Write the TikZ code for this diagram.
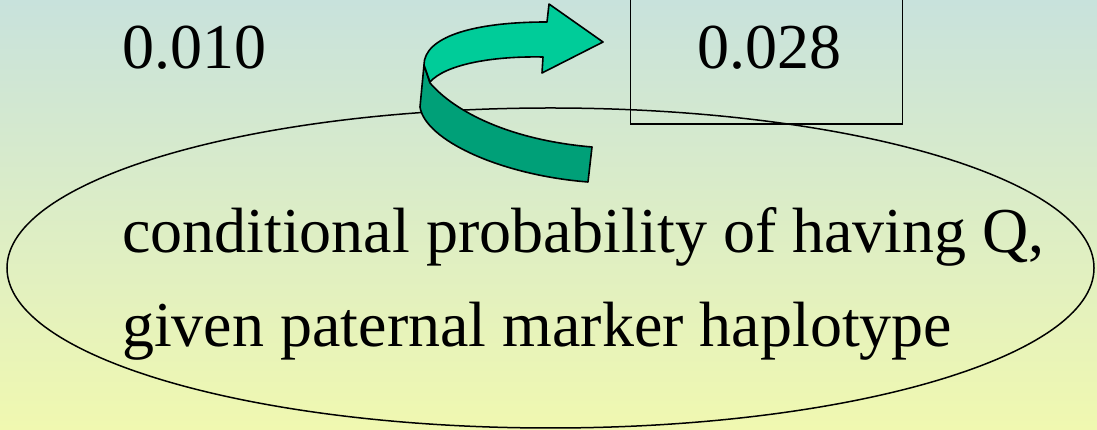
\documentclass[tikz,border=0pt]{standalone}
\usepackage{fontspec}
\setmainfont{Liberation Serif}
\definecolor{bgtop}{RGB}{200,226,220}
\definecolor{bgbot}{RGB}{240,248,176}
\definecolor{facelight}{RGB}{0,204,153}
\definecolor{facedark}{RGB}{0,160,120}
\tikzset{
  bigtext/.style={inner sep=0pt, anchor=base west, font=\fontsize{64}{77}\selectfont},
  outline/.style={draw=black, line width=1.5pt},
  ribbon/.style={draw=black, line width=1.6pt, line join=round}
}
\begin{document}
\begin{tikzpicture}[x=1pt,y=1pt]
\useasboundingbox (0,0) rectangle (1097,430);
\clip (0,0) rectangle (1097,430);
\shade[top color=bgtop, bottom color=bgbot] (0,0) rectangle (1097,430);
% box around 0.028
\draw[outline] (630.5,306) rectangle (902.5,445);
% ellipse
\draw[outline] (550.5,162) ellipse [x radius=543.5, y radius=160];
% curved ribbon arrow
\filldraw[ribbon, fill=facedark] (424,365) -- (420,323)
  .. controls (425,290) and (500,255) .. (588,248) -- (592,283)
  .. controls (510,290) and (455,318) .. (430,347) -- cycle;
\filldraw[ribbon, fill=facelight] (424,365)
  .. controls (424,392) and (470,408) .. (547,408) -- (549,426) -- (603,388)
  -- (542,357) -- (543,373)
  .. controls (490,374) and (445,365) .. (430,348) -- cycle;
% texts
\node[bigtext] (pa) at (122,361) {0.010};
\node[bigtext] (pb) at (697,361) {0.028};
\node[bigtext] (l1) at (122,177) {conditional probability of having Q,};
\node[bigtext] (l2) at (122,83) {given paternal marker haplotype};
\end{tikzpicture}
\end{document}
